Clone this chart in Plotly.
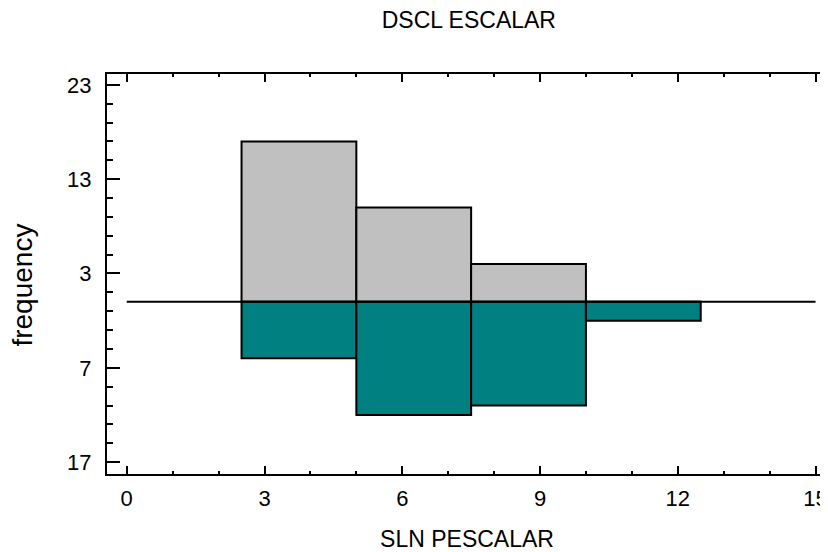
import plotly.graph_objects as go

# Data
bin_centers = [3.75, 6.25, 8.75, 11.25]
bin_width = 2.5
upper_counts = [17, 10, 4, 0]      # gray, above the baseline
lower_counts = [6, 12, 11, 2]      # teal, below the baseline
y_tick_vals = [-17, -7, 3, 13, 23]
y_tick_text = ["17", "7", "3", "13", "23"]
baseline_x = [0, 15]

FONT = "Liberation Sans, Arial, sans-serif"

fig = go.Figure()
fig.add_trace(go.Bar(
    x=bin_centers, y=upper_counts, width=bin_width,
    marker=dict(color="#C0C0C0", line=dict(color="black", width=2)),
    showlegend=False, hoverinfo="skip"))
fig.add_trace(go.Bar(
    x=bin_centers, y=[-v for v in lower_counts], width=bin_width,
    marker=dict(color="#008080", line=dict(color="black", width=2)),
    showlegend=False, hoverinfo="skip"))
fig.add_trace(go.Scatter(
    x=baseline_x, y=[0, 0], mode="lines", yaxis="y2",
    line=dict(color="black", width=2),
    showlegend=False, hoverinfo="skip"))

yrange = [-18.26, 24.15]

fig.update_layout(
    width=820, height=544,
    margin=dict(l=99, r=0, t=66, b=74),
    paper_bgcolor="white", plot_bgcolor="white",
    barmode="overlay",
    font=dict(family=FONT, size=22, color="black"),
    title=dict(text="DSCL ESCALAR", x=0.562, xanchor="center", xref="container",
               y=0.978, yanchor="middle", yref="container",
               font=dict(family=FONT, size=23)),
    xaxis=dict(
        range=[-0.43, 15.25], showgrid=False, zeroline=False,
        showline=True, linecolor="black", linewidth=2, mirror="ticks",
        ticks="inside", ticklen=8, tickwidth=2, tickcolor="black",
        tickmode="linear", tick0=0, dtick=3,
        tickfont=dict(family=FONT, size=22),
        ticklabeloverflow="allow",
        minor=dict(ticks="inside", ticklen=3, tickwidth=2, tickcolor="black",
                   tickmode="linear", tick0=0, dtick=1),
        title=dict(text="SLN PESCALAR", standoff=24,
                   font=dict(family=FONT, size=23)),
        ticklabelstandoff=4,
    ),
    yaxis=dict(
        range=yrange, showgrid=False, zeroline=False,
        showline=True, linecolor="black", linewidth=2, mirror=False,
        ticks="inside", ticklen=13, tickwidth=2, tickcolor="black",
        tickmode="array", tickvals=y_tick_vals, ticktext=y_tick_text,
        tickfont=dict(family=FONT, size=22),
        minor=dict(ticks="inside", ticklen=6, tickwidth=2, tickcolor="black",
                   tickmode="linear", tick0=-17, dtick=2),
        ticklabelstandoff=9,
    ),
    yaxis2=dict(
        range=yrange, overlaying="y", side="right", showgrid=False,
        zeroline=False, showline=False, showticklabels=False,
        ticks="inside", ticklen=5, tickwidth=2, tickcolor="black",
        tickmode="array", tickvals=y_tick_vals,
    ),
    annotations=[dict(
        text="frequency", textangle=-90, showarrow=False,
        xref="paper", yref="paper", x=-0.117, y=0.473,
        xanchor="center", yanchor="middle",
        font=dict(family=FONT, size=28, color="black"))],
)

fig.write_html("out.html")
